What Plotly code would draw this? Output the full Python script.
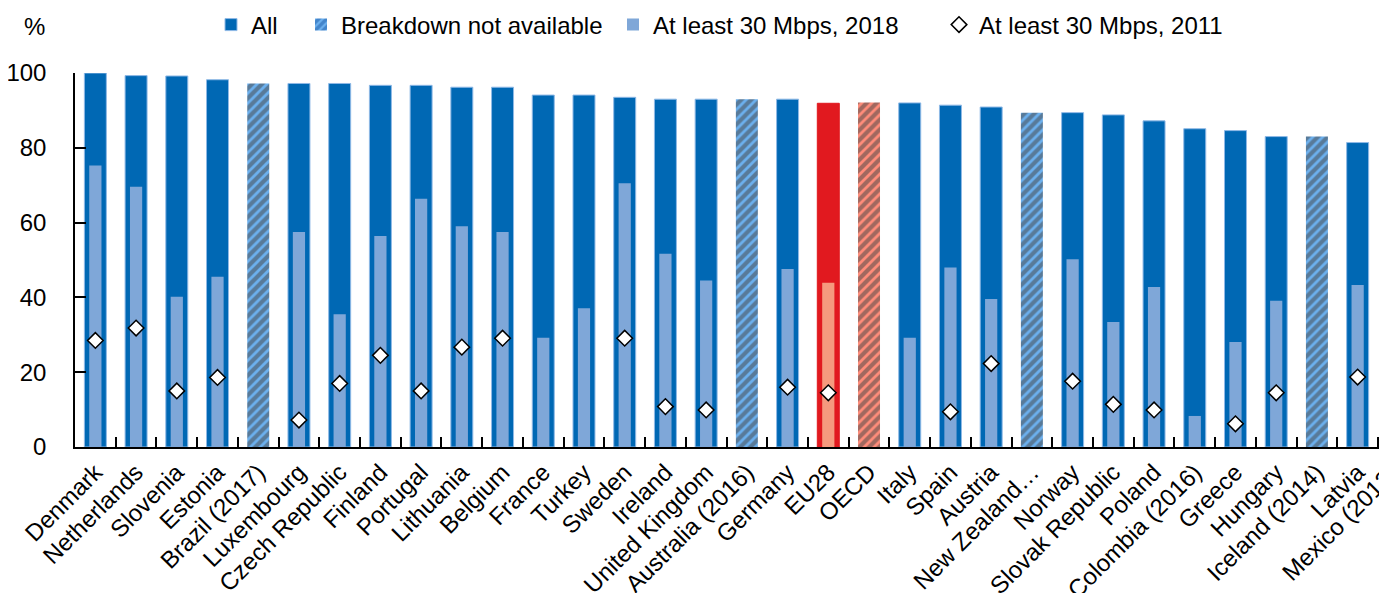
import plotly.graph_objects as go

countries = ["Denmark", "Netherlands", "Slovenia", "Estonia", "Brazil (2017)", "Luxembourg",
             "Czech Republic", "Finland", "Portugal", "Lithuania", "Belgium", "France", "Turkey",
             "Sweden", "Ireland", "United Kingdom", "Australia (2016)", "Germany", "EU28", "OECD",
             "Italy", "Spain", "Austria", "New Zealand…", "Norway", "Slovak Republic", "Poland",
             "Colombia (2016)", "Greece", "Hungary", "Iceland (2014)", "Latvia", "Mexico (2012)"]

# all broadband connections, 2018 (%) - Mexico falls outside the cropped view
total = [100.0, 99.3, 99.2, 98.2, 97.2, 97.2, 97.2, 96.7, 96.7, 96.2, 96.2, 94.1, 94.1, 93.5,
         93.0, 93.0, 93.0, 93.0, 91.9, 92.1, 92.0, 91.4, 90.9, 89.4, 89.4, 88.8, 87.2, 85.1,
         84.6, 83.0, 83.0, 81.4, None]
# at least 30 Mbps
fast_2018 = [75.3, 69.6, 40.2, 45.5, None, 57.5, 35.5, 56.4, 66.4, 59.0, 57.5, 29.2, 37.1, 70.5,
             51.7, 44.5, None, 47.6, 43.9, None, 29.2, 48.0, 39.6, None, 50.2, 33.4, 42.8, 8.3,
             28.1, 39.1, None, 43.3, None]
fast_2011 = [28.5, 31.8, 15.0, 18.6, None, 7.2, 17.0, 24.5, 15.0, 26.7, 29.1, None, None, 29.1,
             10.8, 9.9, None, 16.0, 14.5, None, None, 9.4, 22.3, None, 17.6, 11.4, 9.9, None,
             6.2, 14.5, None, 18.7, None]
no_breakdown = ["Brazil (2017)", "Australia (2016)", "OECD", "New Zealand…", "Iceland (2014)",
                "Mexico (2012)"]
aggregates = ["EU28", "OECD"]

BLUE = "#0068b4"
LIGHT = "#7fa7d8"
RED = "#e1191f"
SALMON = "#f59a7e"
FONT = "Liberation Sans, Arial, sans-serif"

# page body adds an 8px margin, so the figure is 8px smaller each way
W, H = 1379, 585
L, T, B = 67, 65, 146
CAT_PX = 1303 / 32          # pixel width of one category
x_end = -0.5 + (W - L) / CAT_PX   # chart is cropped on the right, inside the last category

all_y = [None if c in no_breakdown else v for c, v in zip(countries, total)]
nb_y = [v if c in no_breakdown else None for c, v in zip(countries, total)]
is_agg = [c in aggregates for c in countries]

fig = go.Figure()
fig.add_trace(go.Bar(x=countries, y=all_y, name="All", width=0.54, legend="legend", showlegend=True,
                     marker=dict(color=[RED if a else BLUE for a in is_agg],
                                 line=dict(width=1, color=[RED if a else "#8fb9e6" for a in is_agg]))))
fig.add_trace(go.Bar(x=countries, y=nb_y, name="Breakdown not available", width=0.54, legend="legend2",
                     marker=dict(color=["#ff8c7a" if a else "#6cb0ee" for a in is_agg],
                                 line=dict(width=0),
                                 pattern=dict(shape="/", size=7, solidity=0.6, fillmode="overlay",
                                              fgcolor=["#c0221a" if a else "#1a5aa8" for a in is_agg]))))
fig.add_trace(go.Bar(x=countries, y=fast_2018, name="At least 30 Mbps, 2018", width=0.3, legend="legend3",
                     marker=dict(color=[SALMON if a else LIGHT for a in is_agg], line=dict(width=0))))
fig.add_trace(go.Scatter(x=countries, y=fast_2011, name="At least 30 Mbps, 2011", mode="markers",
                         legend="legend4",
                         marker=dict(symbol="diamond", size=12, color="white",
                                     line=dict(color="black", width=1.5))))

def leg(px):
    return dict(orientation="h", xref="container", yref="container", x=px / W, y=1 - 17 / H,
                xanchor="left", yanchor="middle", font=dict(family=FONT, size=24, color="black"),
                bgcolor="rgba(0,0,0,0)")

# last label sits outside the visible range, so it is drawn as a cropped annotation
last_x = (len(countries) - 1 + 0.5) / (x_end + 0.5)

fig.update_layout(
    width=W, height=H,
    margin=dict(l=L, r=0, t=T, b=B),
    barmode="overlay", showlegend=True,
    plot_bgcolor="white", paper_bgcolor="white",
    font=dict(family=FONT, size=24, color="black"),
    legend=leg(203), legend2=leg(293), legend3=leg(605), legend4=leg(931),
    annotations=[
        dict(text="%", xref="paper", yref="paper", x=-0.031, y=(374 + 46) / 374,
             showarrow=False, font=dict(family=FONT, size=24), xanchor="center", yanchor="middle"),
        dict(text=countries[-1], xref="paper", yref="paper", x=last_x + 0.006, y=-0.025,
             showarrow=False, textangle=-45, font=dict(family=FONT, size=24),
             xanchor="right", yanchor="top"),
    ],
)
fig.update_xaxes(type="category", range=[-0.5, x_end], tickangle=-45, showline=True,
                 linecolor="black", linewidth=1.5, ticks="inside", ticklen=10, tickwidth=1.5,
                 tickcolor="black", tickson="boundaries", tickfont=dict(size=24), showgrid=False,
                 automargin=False)
fig.update_yaxes(range=[0, 100], dtick=20, showline=True, linecolor="black", linewidth=1.5,
                 ticks="inside", ticklen=11, tickwidth=1.5, tickcolor="black", showgrid=False,
                 zeroline=False, ticklabelstandoff=22, tickfont=dict(size=24), automargin=False)

fig.write_html("out.html")
